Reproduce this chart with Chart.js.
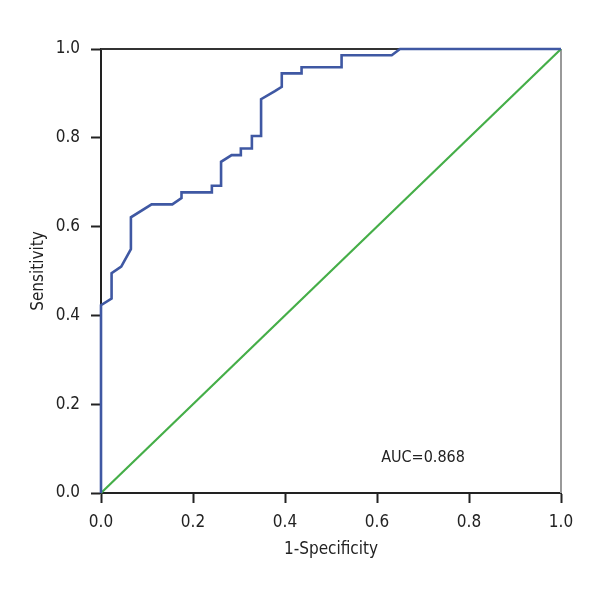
<!DOCTYPE html>
<html>
<head>
<meta charset="utf-8">
<script src="https://cdn.jsdelivr.net/npm/chart.js@4"></script>
<style>
  html, body { margin: 0; padding: 0; background: #fff; }
  #wrap { width: 600px; height: 600px; }
</style>
</head>
<body>
<div id="wrap"><canvas id="roc"></canvas></div>
<script>
// ROC curve points
const fpr = [0, 0, 0.023, 0.023, 0.044, 0.065, 0.065, 0.110, 0.155, 0.175, 0.175, 0.241, 0.241, 0.261, 0.261, 0.284, 0.304, 0.304, 0.328, 0.328, 0.348, 0.348, 0.378, 0.393, 0.393, 0.436, 0.436, 0.523, 0.523, 0.632, 0.650, 1.0];
const tpr = [0, 0.423, 0.438, 0.495, 0.510, 0.549, 0.621, 0.650, 0.650, 0.664, 0.677, 0.677, 0.692, 0.692, 0.746, 0.761, 0.761, 0.776, 0.776, 0.804, 0.804, 0.887, 0.905, 0.915, 0.945, 0.945, 0.959, 0.959, 0.986, 0.986, 1.0, 1.0];
const refX = [0, 1];
const refY = [0, 1];
const tickValues = [0, 0.2, 0.4, 0.6, 0.8, 1.0];
const aucLabel = 'AUC=0.868';

const FONT = '"Liberation Sans Narrow", "DejaVu Sans Condensed", "Roboto", sans-serif';

const frame = {
    id: 'frame',
    beforeDatasetsDraw(chart) {
        const { ctx, chartArea: a } = chart;
        ctx.save();
        ctx.lineWidth = 2;
        ctx.strokeStyle = '#333';
        ctx.beginPath();
        ctx.moveTo(a.left, a.top);
        ctx.lineTo(a.right, a.top);
        ctx.stroke();
        ctx.strokeStyle = '#999';
        ctx.beginPath();
        ctx.moveTo(a.right, a.top);
        ctx.lineTo(a.right, a.bottom);
        ctx.stroke();
        ctx.restore();
    },
    afterDraw(chart) {
        const { ctx, scales } = chart;
        ctx.save();
        ctx.font = '16px ' + FONT;
        ctx.fillStyle = '#222';
        ctx.textAlign = 'center';
        ctx.textBaseline = 'middle';
        ctx.fillText(aucLabel, scales.x.getPixelForValue(0.70), scales.y.getPixelForValue(0.079));
        ctx.restore();
    }
};

const axis = (title, pad, titlePad) => ({
    type: 'linear',
    min: 0,
    max: 1,
    afterBuildTicks: s => { s.ticks = tickValues.map(v => ({ value: v })); },
    ticks: {
        callback: v => v.toFixed(1),
        color: '#222',
        font: { family: FONT, size: 17 },
        padding: pad
    },
    grid: {
        drawOnChartArea: false,
        drawTicks: true,
        tickLength: 10,
        tickWidth: 2,
        tickColor: '#222'
    },
    border: { color: '#222', width: 2 },
    title: {
        display: true,
        text: title,
        color: '#222',
        font: { family: FONT, size: 17 },
        padding: titlePad
    }
});

const xAxis = axis('1-Specificity', 9, { top: 11, bottom: 0 });
xAxis.afterFit = s => { s.height = 600 - 493 - 40; };
const yAxis = axis('Sensitivity', 11, { top: 8, bottom: 0 });
yAxis.afterFit = s => { s.width = 101 - 20; };

new Chart(document.getElementById('roc'), {
    type: 'scatter',
    data: {
        datasets: [
            {
                label: 'ROC',
                data: fpr.map((x, i) => ({ x: x, y: tpr[i] })),
                showLine: true,
                borderColor: '#3f58a3',
                borderWidth: 2.6,
                pointRadius: 0,
                tension: 0,
                clip: false
            },
            {
                label: 'Reference',
                data: refX.map((x, i) => ({ x: x, y: refY[i] })),
                showLine: true,
                borderColor: '#45ae48',
                borderWidth: 2.2,
                pointRadius: 0,
                tension: 0,
                clip: false
            }
        ]
    },
    options: {
        responsive: true,
        maintainAspectRatio: false,
        animation: false,
        layout: { padding: { left: 20, right: 39, top: 49, bottom: 40 } },
        plugins: {
            legend: { display: false },
            tooltip: { enabled: false }
        },
        scales: { x: xAxis, y: yAxis }
    },
    plugins: [frame]
});
</script>
</body>
</html>
